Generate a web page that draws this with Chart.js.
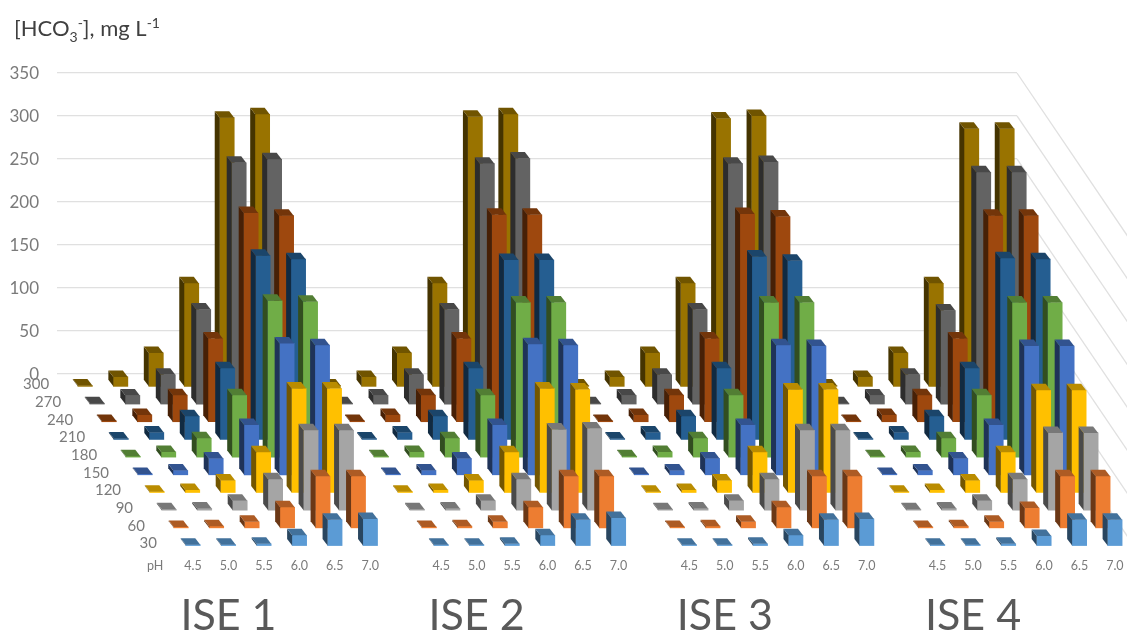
<!DOCTYPE html>
<html>
<head>
    <title>HCO3 ISE</title>
    <script src="https://cdn.jsdelivr.net/npm/chart.js"></script>
    <style>
        body { margin: 0; background: white; }
        canvas { display: block; }
    </style>
</head>
<body>
    <canvas id="chart" width="1127" height="632"></canvas>
    <script>
        // labels
        const phLabels = ["4.5", "5.0", "5.5", "6.0", "6.5", "7.0"];
        const depthLabels = ["30", "60", "90", "120", "150", "180", "210", "240", "270", "300"];
        const iseLabels = ["ISE 1", "ISE 2", "ISE 3", "ISE 4"];
        const yTicks = [0, 50, 100, 150, 200, 250, 300, 350];
        const rowColors = ["#5B9BD5", "#ED7D31", "#A5A5A5", "#FFC000", "#4472C4", "#70AD47", "#255E91", "#9E480E", "#636363", "#997300"];

        // one line per depth row (30 ... 300), one value per pH
        const ise1 = [
            [1, 1, 2, 12, 30, 31],
            [1, 2, 7, 24, 60, 60],
            [1, 2, 11, 36, 93, 93],
            [1, 3, 14, 47, 121, 121],
            [1, 5, 19, 58, 153, 151],
            [1, 6, 22, 72, 182, 181],
            [1, 8, 27, 83, 214, 210],
            [1, 8, 31, 97, 243, 240],
            [1, 10, 34, 110, 281, 285],
            [1, 11, 39, 120, 313, 317]
        ];
        const ise2 = [
            [1, 1, 2, 12, 30, 32],
            [1, 2, 7, 24, 60, 60],
            [1, 2, 11, 36, 94, 95],
            [1, 3, 14, 47, 121, 120],
            [1, 5, 19, 58, 152, 151],
            [1, 6, 22, 72, 180, 180],
            [1, 8, 27, 83, 209, 209],
            [1, 8, 31, 97, 241, 241],
            [1, 10, 34, 110, 280, 286],
            [1, 11, 39, 120, 314, 317]
        ];
        const ise3 = [
            [1, 1, 2, 12, 30, 31],
            [1, 2, 7, 24, 60, 60],
            [1, 2, 11, 36, 93, 93],
            [1, 3, 14, 47, 120, 120],
            [1, 5, 19, 58, 151, 150],
            [1, 6, 22, 72, 180, 180],
            [1, 8, 27, 83, 213, 208],
            [1, 8, 31, 97, 242, 239],
            [1, 10, 34, 110, 280, 282],
            [1, 11, 39, 120, 312, 315]
        ];
        const ise4 = [
            [1, 1, 2, 11, 30, 30],
            [1, 2, 7, 23, 60, 60],
            [1, 2, 11, 36, 90, 90],
            [1, 3, 14, 47, 119, 119],
            [1, 5, 19, 58, 150, 150],
            [1, 6, 22, 72, 180, 180],
            [1, 8, 27, 83, 211, 210],
            [1, 8, 31, 97, 240, 240],
            [1, 10, 34, 109, 270, 270],
            [1, 11, 39, 120, 300, 300]
        ];
        const iseValues = [ise1, ise2, ise3, ise4];

        // projection of the depth axis, in axis units
        const groupStep = 7;       // x units between ISE blocks
        const rowShiftX = 0.338;   // x units each row moves left going back
        const rowStepY = 20.6;     // y units each row moves up going back
        const frontBase = -200.4;
        const xMin = -3.836, xMax = 23.24;
        const sideX = 5, sideY = 6.5; // pixels of the visible side/top faces

        const gray = "#7a7a7a";
        const fontName = "Lato, 'Open Sans', sans-serif";

        function shade(hex, f) {
            const n = parseInt(hex.slice(1), 16);
            const r = Math.round((n >> 16) * f), g = Math.round(((n >> 8) & 255) * f), b = Math.round((n & 255) * f);
            return `rgb(${r},${g},${b})`;
        }

        function barX(group, ph, row) {
            return group * groupStep + ph - row * rowShiftX;
        }

        const datasets = depthLabels.map((label, row) => {
            const data = [];
            iseValues.forEach((rows, group) => {
                rows[row].forEach((v, ph) => {
                    const base = frontBase + row * rowStepY;
                    data.push({ x: barX(group, ph, row), y: [base, base + v] });
                });
            });
            return {
                label: label,
                data: data,
                backgroundColor: rowColors[row],
                borderWidth: 0,
                barThickness: 14.5,
                grouped: false,
                clip: false,
                xAxisID: "x"
            };
        });

        function poly(ctx, pts, color) {
            ctx.fillStyle = color;
            ctx.beginPath();
            pts.forEach((p, i) => i ? ctx.lineTo(p[0], p[1]) : ctx.moveTo(p[0], p[1]));
            ctx.closePath();
            ctx.fill();
        }

        const bars3d = {
            id: "bars3d",
            beforeDatasetsDraw(chart) {
                // right wall, continues the grid lines toward the viewer
                const ctx = chart.ctx, y = chart.scales.y, right = chart.chartArea.right;
                ctx.save();
                ctx.strokeStyle = "#e0e0e0";
                ctx.lineWidth = 1.3;
                yTicks.forEach(t => {
                    const py = y.getPixelForValue(t);
                    ctx.beginPath();
                    ctx.moveTo(right, py);
                    ctx.lineTo(right + 120, py + 177);
                    ctx.stroke();
                });
                ctx.restore();
            },
            afterDatasetDraw(chart, args) {
                const ctx = chart.ctx;
                const color = rowColors[args.index];
                args.meta.data.forEach(bar => {
                    const l = bar.x - bar.width / 2, r = bar.x + bar.width / 2;
                    // floating bars below zero come back with y and base swapped
                    const t = Math.min(bar.y, bar.base), b = Math.max(bar.y, bar.base);
                    poly(ctx, [[l, t], [l - sideX, t - sideY], [l - sideX, b - sideY], [l, b]], shade(color, 0.45));
                    poly(ctx, [[l, t], [r, t], [r - sideX, t - sideY], [l - sideX, t - sideY]], shade(color, 0.73));
                });
            },
            afterDraw(chart) {
                const ctx = chart.ctx, x = chart.scales.x, y = chart.scales.y;
                ctx.save();
                // depth axis labels
                ctx.font = "15px " + fontName;
                ctx.fillStyle = gray;
                ctx.textAlign = "right";
                ctx.textBaseline = "middle";
                depthLabels.forEach((label, row) => {
                    const px = x.getPixelForValue(barX(0, 0, row)) - 36;
                    const py = y.getPixelForValue(frontBase + row * rowStepY) - 2;
                    ctx.fillText(label, px, py);
                });
                // axis title with sub and superscripts
                ctx.textAlign = "left";
                ctx.textBaseline = "alphabetic";
                ctx.fillStyle = "#404040";
                let px = 14;
                const runs = [["[HCO", 22, 0], ["3", 14, 6], ["-", 14, -8], ["], mg L", 22, 0], ["-1", 14, -8]];
                runs.forEach(run => {
                    ctx.font = run[1] + "px " + fontName;
                    ctx.fillText(run[0], px, 36 + run[2]);
                    px += ctx.measureText(run[0]).width;
                });
                ctx.restore();
            }
        };

        new Chart(document.getElementById("chart"), {
            type: "bar",
            data: { datasets: datasets },
            plugins: [bars3d],
            options: {
                responsive: false,
                animation: false,
                layout: { padding: { top: 73, right: 110, left: 0, bottom: 0 } },
                plugins: { legend: { display: false }, tooltip: { enabled: false } },
                scales: {
                    x: {
                        type: "linear",
                        position: "bottom",
                        offset: false,
                        weight: 1,
                        min: xMin,
                        max: xMax,
                        grid: { display: false, drawTicks: false },
                        border: { display: false },
                        afterBuildTicks(scale) {
                            const ticks = [{ value: -1.07 }];
                            iseLabels.forEach((_, group) => {
                                phLabels.forEach((_, ph) => ticks.push({ value: barX(group, ph, 0) }));
                            });
                            scale.ticks = ticks;
                        },
                        afterFit(scale) { scale.height = 30; },
                        ticks: {
                            autoSkip: false,
                            maxRotation: 0,
                            minRotation: 0,
                            padding: 9,
                            color: gray,
                            font: { family: fontName, size: 12.5 },
                            callback(value, index) {
                                return index === 0 ? "pH" : phLabels[(index - 1) % phLabels.length];
                            }
                        }
                    },
                    xGroup: {
                        type: "linear",
                        axis: "x",
                        position: "bottom",
                        offset: false,
                        weight: 2,
                        min: xMin,
                        max: xMax,
                        grid: { display: false, drawTicks: false },
                        border: { display: false },
                        afterBuildTicks(scale) {
                            scale.ticks = iseLabels.map((_, group) => ({ value: group * groupStep + 1 }));
                        },
                        afterFit(scale) { scale.height = 52.5; },
                        ticks: {
                            autoSkip: false,
                            maxRotation: 0,
                            minRotation: 0,
                            padding: 11,
                            color: "#595959",
                            font: { family: fontName, size: 43, weight: "400" },
                            callback(value, index) { return iseLabels[index]; }
                        }
                    },
                    y: {
                        type: "linear",
                        position: "left",
                        min: -205,
                        max: 350,
                        grid: { color: "#e0e0e0", lineWidth: 1.3, drawTicks: false },
                        border: { display: false },
                        afterBuildTicks(scale) {
                            scale.ticks = yTicks.map(v => ({ value: v }));
                        },
                        afterFit(scale) { scale.width = 57; },
                        ticks: {
                            padding: 18,
                            labelOffset: 1,
                            color: gray,
                            font: { family: fontName, size: 17 }
                        }
                    }
                }
            }
        });
    </script>
</body>
</html>
